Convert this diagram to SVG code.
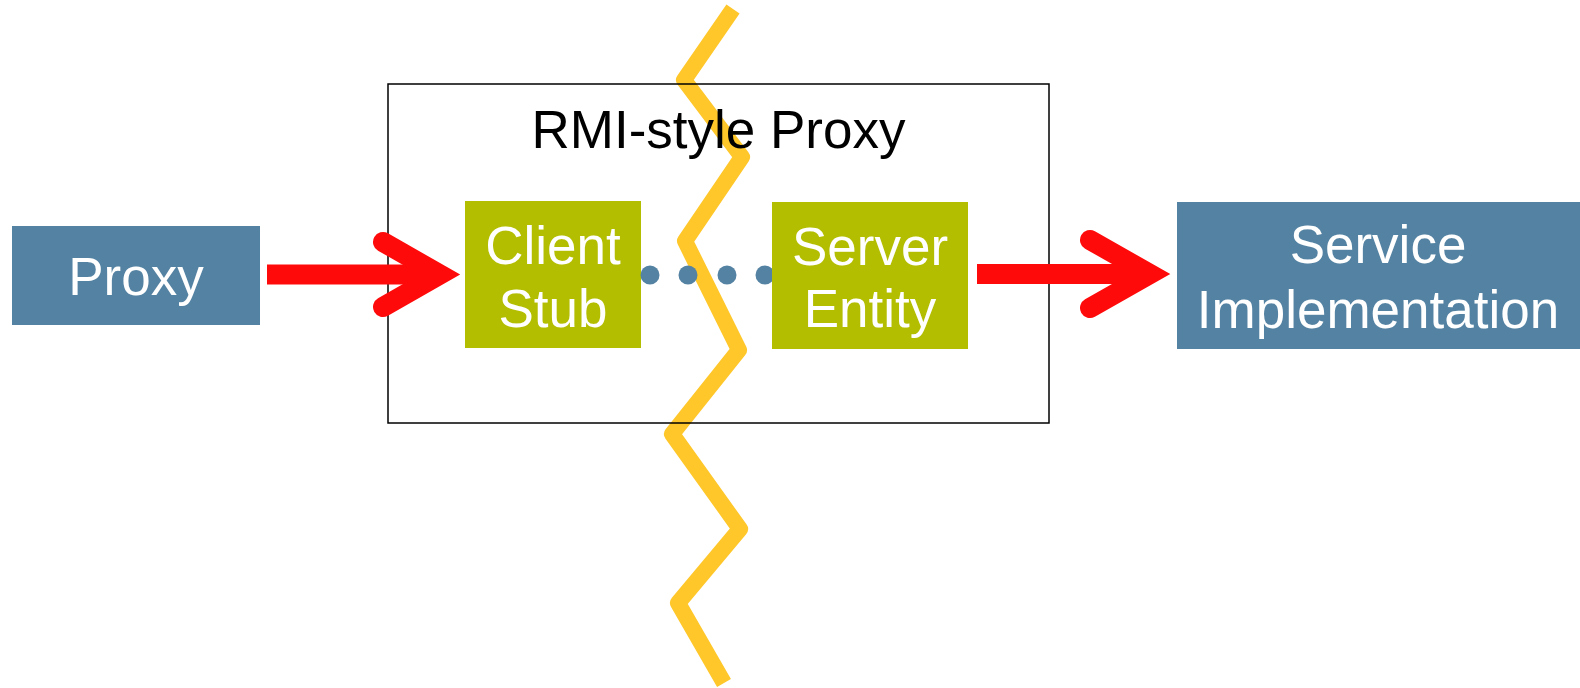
<svg xmlns="http://www.w3.org/2000/svg" width="1580" height="688" viewBox="0 0 1580 688">
  <style>
    .lbl { font-family: "Liberation Sans", Arial, sans-serif; font-size: 53px; text-anchor: middle; }
    .white { fill: #ffffff; }
    .blue { fill: #5482a2; }
    .olive { fill: #b3be00; }
    .arrow { fill: none; stroke: #ff0a0a; stroke-width: 20; }
    .head { stroke-linecap: round; stroke-linejoin: miter; stroke-miterlimit: 10; }
  </style>
  <rect width="1580" height="688" fill="#ffffff"/>

  <!-- network boundary -->
  <polyline id="boundary" points="733,9 684,80 742,157 685,241 739,350 672,434 740,529 678,603 724,683"
            fill="none" stroke="#ffc72a" stroke-width="16" stroke-linejoin="round" stroke-linecap="butt"/>

  <g id="rmi-proxy">
    <rect x="388" y="84" width="661" height="339" fill="none" stroke="#000000" stroke-width="1.5"/>
    <text class="lbl" x="718.5" y="148" fill="#000000">RMI-style Proxy</text>
  </g>

  <g id="proxy">
    <rect class="blue" x="12" y="226" width="248" height="99"/>
    <text class="lbl white" x="136" y="295">Proxy</text>
  </g>

  <g id="client-stub">
    <rect class="olive" x="465" y="201" width="176" height="147"/>
    <text class="lbl white" x="553" y="264">Client</text>
    <text class="lbl white" x="553" y="327">Stub</text>
  </g>

  <g id="connectors">
    <!-- dotted link between stub and entity -->
    <g class="blue">
      <circle cx="650" cy="275" r="9.5"/>
      <circle cx="688" cy="275" r="9.5"/>
      <circle cx="727" cy="275" r="9.5"/>
      <circle cx="765" cy="275" r="9.5"/>
    </g>
    <!-- proxy to client stub -->
    <line class="arrow" x1="267" y1="274.5" x2="440" y2="274.5"/>
    <polyline class="arrow head" points="383,242 440,274.5 383,307"/>
    <!-- server entity to service -->
    <line class="arrow" x1="977" y1="274" x2="1150" y2="274"/>
    <polyline class="arrow head" points="1090,240 1150,274 1090,308"/>
  </g>

  <g id="server-entity">
    <rect class="olive" x="772" y="202" width="196" height="147"/>
    <text class="lbl white" x="870" y="265">Server</text>
    <text class="lbl white" x="870" y="327">Entity</text>
  </g>

  <g id="service-implementation">
    <rect class="blue" x="1177" y="202" width="403" height="147"/>
    <text class="lbl white" x="1378" y="263">Service</text>
    <text class="lbl white" x="1378" y="328">Implementation</text>
  </g>
</svg>
